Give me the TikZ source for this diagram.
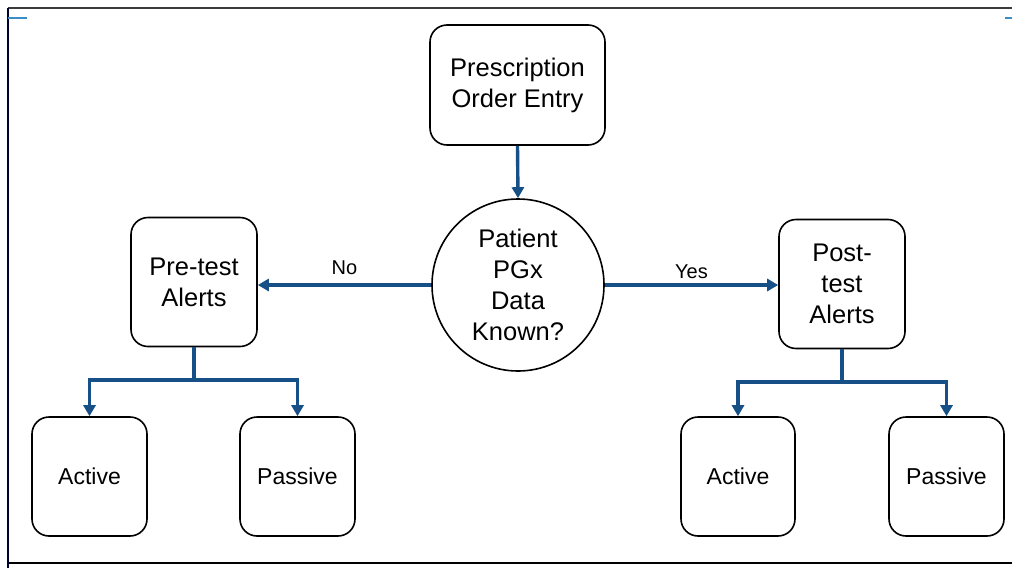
\documentclass[tikz,border=0pt]{standalone}
\usepackage{fontspec}
\setmainfont{Liberation Sans}
\usetikzlibrary{arrows.meta}
\definecolor{flow}{RGB}{22,80,135}
\definecolor{frame}{RGB}{60,60,60}
\definecolor{tick}{RGB}{60,140,200}
\begin{document}
\begin{tikzpicture}[x=1pt,y=-1pt,
  box/.style={draw=black,line width=1.6pt,rounded corners=17pt,fill=white,align=center,
    font=\fontsize{25.5}{31}\selectfont,inner sep=0pt},
  leaf/.style={box,font=\fontsize{23}{28}\selectfont,minimum height=119pt},
  conn/.style={draw=flow,line width=3.4pt,-{Triangle[length=11pt,width=12pt]}},
  plain/.style={draw=flow,line width=3.4pt},
  lbl/.style={font=\fontsize{20}{22}\selectfont,inner sep=0pt}]
\useasboundingbox (0,0) rectangle (1012,568);
% frame
\draw[frame,line width=1.6pt] (8,8) -- (1012,8);
\draw[black,line width=1.2pt] (8,563) -- (1012,563);
\draw[black!80!blue,line width=1.6pt] (8,8) -- (8,568);
\draw[tick,line width=1.2pt] (8,18) -- (27,18);
\draw[tick,line width=1.2pt] (1005,18) -- (1012,18);
% nodes
\node[box,minimum width=175pt,minimum height=120pt] (poe) at (517.5,85) {Prescription\\Order Entry};
\node[circle,draw=black,line width=1.6pt,minimum size=172pt,inner sep=0pt,align=center,
  font=\fontsize{25.5}{31}\selectfont] (pgx) at (518,285) {Patient\\PGx\\Data\\Known?};
\node[box,minimum width=126pt,minimum height=129pt] (pre) at (194,282) {Pre-test\\Alerts};
\node[box,minimum width=126pt,minimum height=129pt] (post) at (842,284) {Post-\\test\\Alerts};
\node[leaf,minimum width=115pt] (a1) at (89.5,476.5) {Active};
\node[leaf,minimum width=115pt] (p1) at (297.5,476.5) {Passive};
\node[leaf,minimum width=114pt] (a2) at (738,476.5) {Active};
\node[leaf,minimum width=115pt] (p2) at (946.5,476.5) {Passive};
% connectors
\draw[conn] (poe.south) -- (pgx.north);
\draw[conn] (pgx.west) -- (pgx.west -| pre.east) node[lbl,midway,above=9pt] {No};
\draw[conn] (pgx.east) -- (pgx.east -| post.west) node[lbl,midway,above=5pt] {Yes};
\coordinate (j1) at (194,380);
\coordinate (j2) at (842,382);
\draw[plain] (pre.south) -- (j1);
\draw[conn] (j1) -| (a1.north);
\draw[conn] (j1) -| (p1.north);
\draw[plain] (post.south) -- (j2);
\draw[conn] (j2) -| (a2.north);
\draw[conn] (j2) -| (p2.north);
\end{tikzpicture}
\end{document}
